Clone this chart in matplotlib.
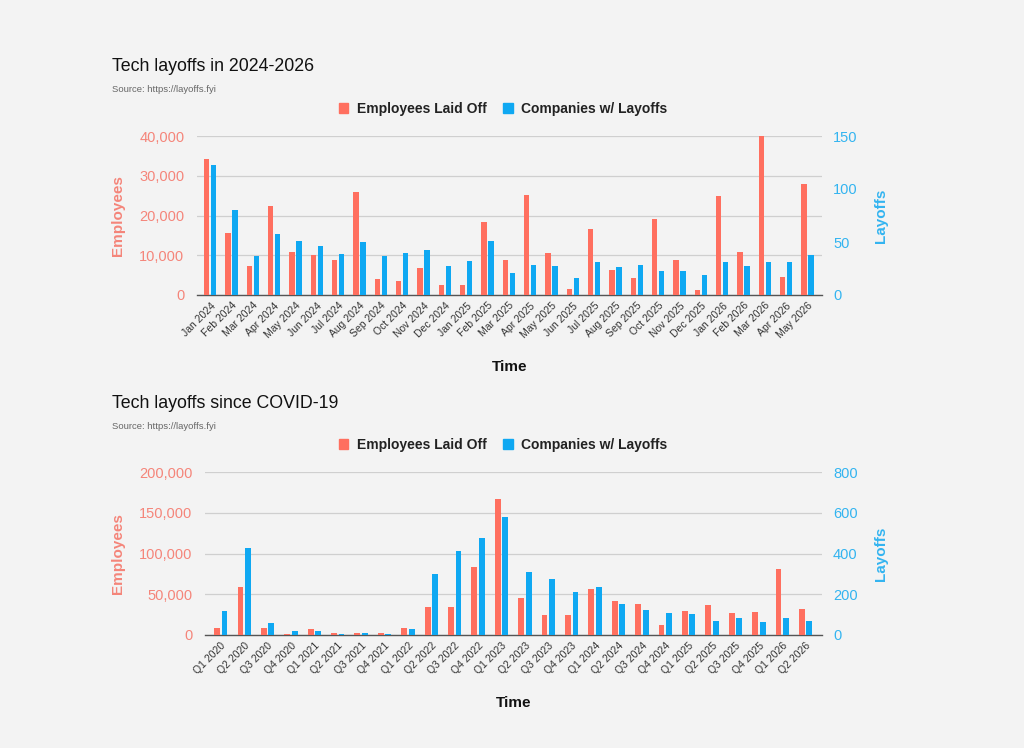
import matplotlib.pyplot as plt
import numpy as np
from matplotlib.ticker import StrMethodFormatter
from matplotlib.patches import Patch

plt.rcParams['font.family'] = ['Liberation Sans', 'DejaVu Sans']

# monthly data 2024-2026
months = ['Jan 2024', 'Feb 2024', 'Mar 2024', 'Apr 2024', 'May 2024', 'Jun 2024',
          'Jul 2024', 'Aug 2024', 'Sep 2024', 'Oct 2024', 'Nov 2024', 'Dec 2024',
          'Jan 2025', 'Feb 2025', 'Mar 2025', 'Apr 2025', 'May 2025', 'Jun 2025',
          'Jul 2025', 'Aug 2025', 'Sep 2025', 'Oct 2025', 'Nov 2025', 'Dec 2025',
          'Jan 2026', 'Feb 2026', 'Mar 2026', 'Apr 2026', 'May 2026']
month_employees = [34100, 15500, 7300, 22400, 10900, 10000, 8800, 25900, 3900, 3500,
                   6700, 2400, 2400, 18400, 8900, 25200, 10500, 1500, 16600, 6400,
                   4400, 19000, 8800, 1300, 24900, 10800, 40000, 4600, 27800]
month_companies = [123, 80, 37, 58, 51, 46, 39, 50, 37, 40, 42, 27, 32, 51, 21,
                   28, 27, 16, 31, 26, 28, 23, 23, 19, 31, 27, 31, 31, 38]

# quarterly data since COVID-19
quarters = ['Q1 2020', 'Q2 2020', 'Q3 2020', 'Q4 2020', 'Q1 2021', 'Q2 2021',
            'Q3 2021', 'Q4 2021', 'Q1 2022', 'Q2 2022', 'Q3 2022', 'Q4 2022',
            'Q1 2023', 'Q2 2023', 'Q3 2023', 'Q4 2023', 'Q1 2024', 'Q2 2024',
            'Q3 2024', 'Q4 2024', 'Q1 2025', 'Q2 2025', 'Q3 2025', 'Q4 2025',
            'Q1 2026', 'Q2 2026']
quarter_employees = [9000, 59000, 9000, 1200, 7000, 2000, 2000, 3000, 9000, 34000,
                     34000, 84000, 167000, 46000, 24500, 24500, 56000, 42000, 38000,
                     12000, 29000, 37000, 26500, 28500, 81000, 32000]
quarter_companies = [118, 426, 59, 18, 18, 5, 8, 3, 31, 300, 410, 474, 581, 309,
                     273, 209, 237, 153, 122, 106, 101, 67, 83, 62, 83, 67]

RED = '#ff6f5f'
BLUE = '#0fa8f2'
RED_TXT = '#f5857a'
BLUE_TXT = '#33b4f0'
BG = '#f3f3f3'

fig = plt.figure(figsize=(10.24, 7.48), dpi=100, facecolor=BG)


def draw(rect, labels, emp, comp, emp_max, comp_max, xlim, title, title_y, legend_y):
    ax = fig.add_axes(rect)
    ax2 = ax.twinx()
    ax.set_facecolor('none')
    ax2.set_facecolor('none')
    x = np.arange(len(labels))
    w = 0.25
    ax.bar(x - 0.16, emp, width=w, color=RED, zorder=3)
    ax2.bar(x + 0.16, comp, width=w, color=BLUE, zorder=3)
    ax.set_xlim(*xlim)
    ax.set_ylim(0, emp_max)
    ax2.set_ylim(0, comp_max)
    ax.set_yticks(np.linspace(0, emp_max, 5))
    ax2.set_yticks(np.linspace(0, comp_max, 5 if comp_max == 800 else 4))
    ax.yaxis.set_major_formatter(StrMethodFormatter('{x:,.0f}'))
    ax.grid(axis='y', color='#cfcfcf', linewidth=0.9, zorder=0)
    for a in (ax, ax2):
        for s in a.spines.values():
            s.set_visible(False)
        a.tick_params(length=0)
    ax.spines['bottom'].set_visible(True)
    ax.spines['bottom'].set_color('#555555')
    ax.spines['bottom'].set_linewidth(1.0)
    ax.tick_params(axis='y', labelcolor=RED_TXT, labelsize=10.5, pad=9)
    ax2.tick_params(axis='y', labelcolor=BLUE_TXT, labelsize=10.5, pad=8)
    ax.set_xticks(x)
    ax.set_xticklabels(labels, rotation=45, ha='right', rotation_mode='anchor',
                       fontsize=7.5, color='#333333')
    ax.tick_params(axis='x', pad=4)
    ax.set_ylabel('Employees', color=RED_TXT, fontsize=11, fontweight='bold', labelpad=10)
    ax2.set_ylabel('Layoffs', color=BLUE_TXT, fontsize=11, fontweight='bold', labelpad=12)
    ax.set_xlabel('Time', fontsize=11, fontweight='bold', color='#111111', labelpad=14)
    fig.text(112 / 1024, title_y, title, fontsize=12.8, color='#111111', va='baseline')
    fig.text(112 / 1024, title_y - 0.028, 'Source: https://layoffs.fyi', fontsize=6.8,
             color='#666666', va='baseline')
    handles = [Patch(color=RED), Patch(color=BLUE)]
    leg = fig.legend(handles, ['Employees Laid Off', 'Companies w/ Layoffs'],
                     loc='center', bbox_to_anchor=(503 / 1024, legend_y), ncol=2,
                     frameon=False, handlelength=0.7, handleheight=0.7,
                     handletextpad=0.6, columnspacing=1.2,
                     prop={'weight': 'bold', 'size': 10})
    for t in leg.get_texts():
        t.set_color('#222222')
    return ax


draw([197 / 1024, 1 - 295 / 748, 625 / 1024, 159 / 748], months,
     month_employees, month_companies, 40000, 150, (-0.62, 28.68),
     'Tech layoffs in 2024-2026', 1 - 71 / 748, 1 - 109 / 748)
draw([205 / 1024, 1 - 635 / 748, 617 / 1024, 163 / 748], quarters,
     quarter_employees, quarter_companies, 200000, 800, (-0.675, 25.7),
     'Tech layoffs since COVID-19', 1 - 408 / 748, 1 - 445 / 748)

fig.savefig('out.png', dpi=100, facecolor=BG)
